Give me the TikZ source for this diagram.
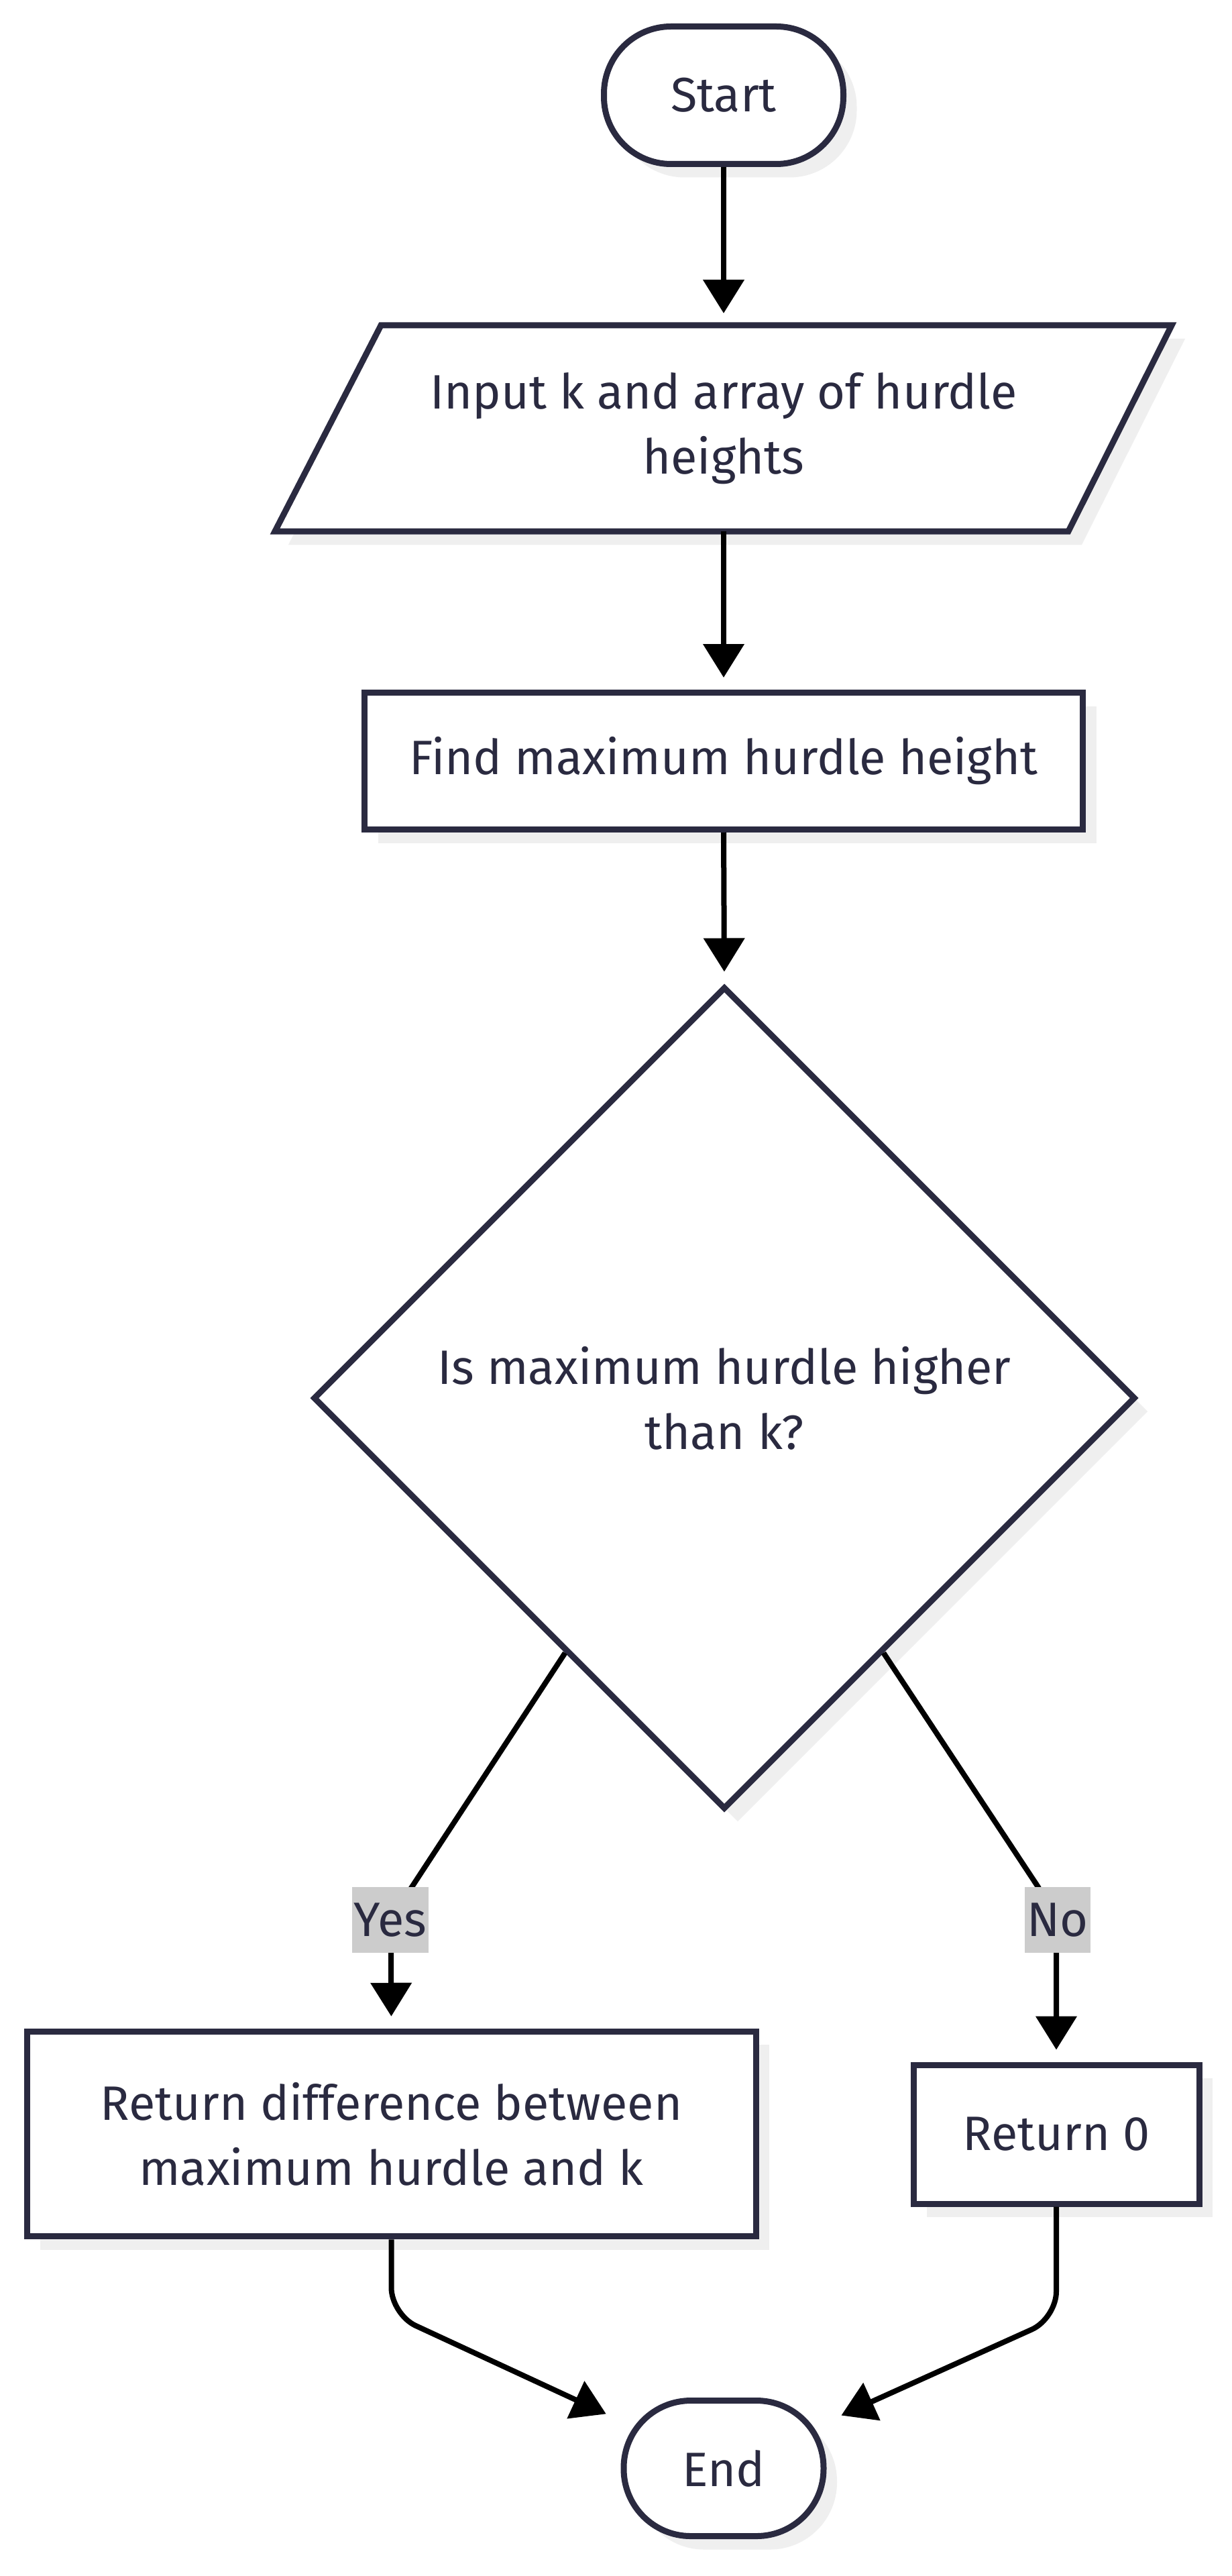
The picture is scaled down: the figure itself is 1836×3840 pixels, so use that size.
\documentclass[tikz,border=0pt]{standalone}
\usepackage{fontspec}
\setmainfont{Fira Sans}
\usetikzlibrary{arrows.meta,shapes.geometric,shadows}
\definecolor{ink}{RGB}{42,42,64}
\definecolor{shdgray}{RGB}{239,239,239}
\definecolor{lblbg}{RGB}{204,204,204}
\begin{document}
\begin{tikzpicture}[x=0.25pt,y=-0.25pt,
  shd/.style={drop shadow={shadow xshift=5pt,shadow yshift=-5pt,opacity=1,fill=shdgray}},
  box/.style={draw=ink,line width=2.25pt,fill=white,text=ink,align=center,
    font=\fontsize{18pt}{24.25pt}\selectfont,inner sep=0pt,shd},
  term/.style={box,rounded corners=25pt},
  txt/.style={text=ink,align=center,font=\fontsize{18pt}{24.25pt}\selectfont,inner sep=0pt,outer sep=0pt},
  arr/.style={draw=black,line width=2pt,-{Triangle[length=12.5pt,width=15pt]},shorten >=4.5pt},
  lbl/.style={fill=lblbg,text=ink,font=\fontsize{18pt}{24pt}\selectfont,inner xsep=0.8pt,inner ysep=0pt,minimum height=24.5pt}]
\useasboundingbox (0,0) rectangle (1836,3840);
\fill[white] (0,0) rectangle (1836,3840);

% Start
\node[term,minimum width=89.25pt,minimum height=51.25pt] (start) at (1079,142) {Start};

% Input parallelogram
\begin{scope}[shift={(20,20)}]
\fill[shdgray] (568,485) -- (1747,485) -- (1593,792) -- (410,792) -- cycle;
\end{scope}
\draw[ink,line width=2.25pt,fill=white,line join=miter] (568,485) -- (1747,485) -- (1593,792) -- (410,792) -- cycle;
\node[txt,minimum width=256.25pt,minimum height=76.75pt] (inp) at (1079,638.5) {Input k and array of hurdle\\heights};

% Find
\node[box,minimum width=267.75pt,minimum height=51pt] (find) at (1079,1134.5) {Find maximum hurdle height};

% Decision
\node[box,shape=diamond,minimum width=306.5pt,minimum height=306.5pt] (dec) at (1080,2084) {Is maximum hurdle higher\\than k?};

% Returns
\node[box,minimum width=271.75pt,minimum height=76.4pt] (ret1) at (583.5,3181) {Return difference between\\maximum hurdle and k};
\node[box,minimum width=106.5pt,minimum height=51.75pt] (ret0) at (1575,3181.5) {Return 0};

% End
\node[term,minimum width=74.5pt,minimum height=50.5pt] (end) at (1079,3679.5) {End};

% Connectors
\draw[arr] (start.south) -- (inp.north);
\draw[arr] (inp.south) -- (find.north);
\draw[arr] (find.south) -- (dec.north);

\coordinate (ya) at (614,2813);
\coordinate (yb) at (583,2911);
\draw[arr] (dec.238) -- (ya) .. controls (583,2860) .. (yb) -- (ret1.north);
\coordinate (na) at (1548,2813);
\coordinate (nb) at (1575,2911);
\draw[arr] (dec.302) -- (na) .. controls (1575,2860) .. (nb) -- (ret0.north);

\node[lbl] (yl) at (582,2862) {Yes};
\node[lbl] (nl) at (1577,2862) {No};

\coordinate (c1) at (583.5,3450);
\coordinate (c2) at (1575,3456);
\draw[arr,rounded corners=10pt,shorten >=6pt] (ret1.south) -- (c1) -- (end);
\draw[arr,rounded corners=10pt,shorten >=6pt] (ret0.south) -- (c2) -- (end);
\end{tikzpicture}
\end{document}
